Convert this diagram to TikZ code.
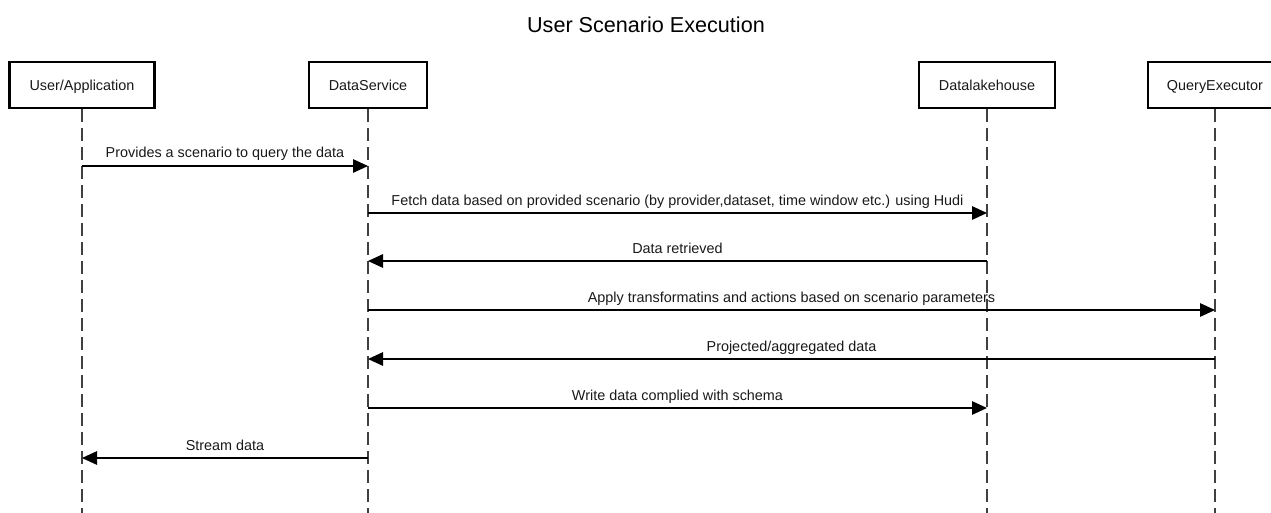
\documentclass[tikz,border=0pt]{standalone}
\usepackage{fontspec}
\setmainfont{Liberation Sans}
\usetikzlibrary{arrows.meta}
\begin{document}
\begin{tikzpicture}[x=1pt,y=-1pt,
  actor/.style={draw, line width=2.4pt, minimum height=46pt, inner sep=0pt,
    text height=10.3pt, text depth=0pt,
    font=\fontsize{14.4}{17}\selectfont, text=black!90},
  lifeline/.style={line width=1.3pt, draw=black!75, dash pattern=on 12.5pt off 6.5pt},
  msg/.style={line width=1.3pt, draw=black, -{Triangle[length=15pt,width=13.5pt]}},
  msglabel/.style={anchor=base, inner sep=0pt, font=\fontsize{14.4}{17}\selectfont, text=black!90}]
\useasboundingbox (0,0) rectangle (1271,513);
\clip (0,0) rectangle (1271,513);

% title
\node[anchor=base, inner sep=0pt, font=\fontsize{21.6}{26}\selectfont] (title) at (646,33) {User Scenario Execution};

% participants
\node[actor, minimum width=145pt] (user) at (82,85) {User/Application};
\node[actor, minimum width=118pt] (ds) at (368,85) {DataService};
\node[actor, minimum width=136pt] (dlh) at (987,85) {Datalakehouse};
\node[actor, minimum width=134pt] (qe) at (1215,85) {QueryExecutor};

% bottom ends of the lifelines
\coordinate (userEnd) at (82,513);
\coordinate (dsEnd) at (368,513);
\coordinate (dlhEnd) at (987,513);
\coordinate (qeEnd) at (1215,513);

\draw[lifeline] (user.south) -- (userEnd);
\draw[lifeline] (ds.south) -- (dsEnd);
\draw[lifeline] (dlh.south) -- (dlhEnd);
\draw[lifeline] (qe.south) -- (qeEnd);

% message anchor points on the lifelines
\foreach \n/\y in {1/166, 2/213, 3/261, 4/310, 5/359, 6/408, 7/458} {
  \coordinate (u\n) at (82,\y);
  \coordinate (d\n) at (368,\y);
  \coordinate (l\n) at (987,\y);
  \coordinate (q\n) at (1215,\y);
}

% messages
\draw[msg] (u1) -- (d1) node[msglabel, midway, yshift=8pt] (m1) {Provides a scenario to query the data};
\draw[msg] (d2) -- (l2) node[msglabel, midway, yshift=8pt] (m2) {Fetch data based on provided scenario (by provider,dataset, time window etc.) using Hudi};
\draw[msg] (l3) -- (d3) node[msglabel, midway, yshift=8pt] (m3) {Data retrieved};
\draw[msg] (d4) -- (q4) node[msglabel, midway, yshift=8pt] (m4) {Apply transformatins and actions based on scenario parameters};
\draw[msg] (q5) -- (d5) node[msglabel, midway, yshift=8pt] (m5) {Projected/aggregated data};
\draw[msg] (d6) -- (l6) node[msglabel, midway, yshift=8pt] (m6) {Write data complied with schema};
\draw[msg] (d7) -- (u7) node[msglabel, midway, yshift=8pt] (m7) {Stream data};
\end{tikzpicture}
\end{document}
